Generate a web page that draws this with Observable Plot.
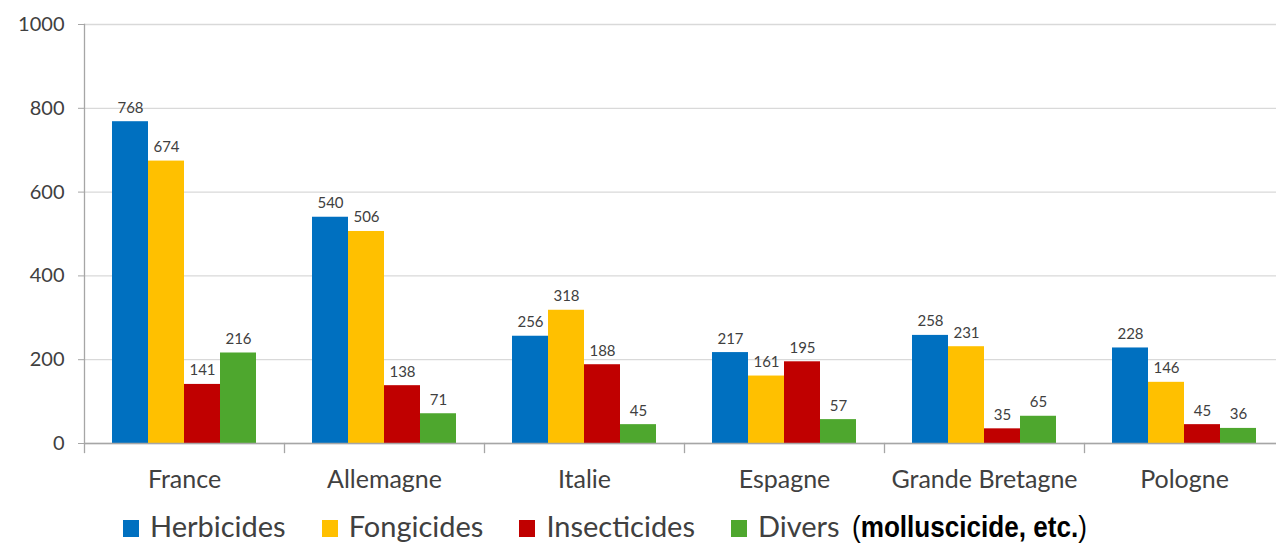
<!DOCTYPE html>
<html>
<head>
<meta charset="utf-8">
<script src="https://cdn.jsdelivr.net/npm/d3@7"></script>
<script src="https://cdn.jsdelivr.net/npm/@observablehq/plot@0.6"></script>
<style>
  html, body { margin: 0; padding: 0; background: #fff; overflow: hidden; }
  #wrap { position: relative; width: 1276px; height: 544px; }
  #legend {
    position: absolute; left: 123px; top: 511px;
    white-space: nowrap; font-family: Lato, sans-serif; font-size: 29px;
    line-height: 29px; color: #404040;
  }
  #legend .item { margin-right: 36px; }
  #legend .item:last-child { margin-right: 0; }
  #legend .sw { display: inline-block; width: 16px; height: 17px; margin-right: 11px; vertical-align: baseline; }
  #legend .note {
    display: inline-block; margin-left: 12px; color: #000; line-height: 26px;
    font-family: "Liberation Sans", Arial, sans-serif; font-size: 30px;
    transform: scaleX(0.87); transform-origin: left center;
  }
  #legend .note b { font-weight: 700; }
</style>
</head>
<body>
<div id="wrap">
  <div id="chart"></div>
  <div id="legend"></div>
</div>
<script>
// Pesticide use by country and product family
const countries = ["France", "Allemagne", "Italie", "Espagne", "Grande Bretagne", "Pologne"];
const series = ["Herbicides", "Fongicides", "Insecticides", "Divers"];
const herbicides = [768, 540, 256, 217, 258, 228];
const fongicides = [674, 506, 318, 161, 231, 146];
const insecticides = [141, 138, 188, 195, 35, 45];
const divers = [216, 71, 45, 57, 65, 36];
const colors = ["#0070C0", "#FFC000", "#C00000", "#4EA72E"];
const yTicks = [0, 200, 400, 600, 800, 1000];
const diversNote = "molluscicide, etc.";

const valuesBySeries = [herbicides, fongicides, insecticides, divers];
const rows = [];
countries.forEach((country, i) => {
  series.forEach((type, j) => {
    rows.push({country, type, value: valuesBySeries[j][i]});
  });
});

const W = 1276, H = 500, mTop = 24, mBottom = 57, mLeft = 84, mRight = -8;
const axisGray = "#a6a6a6";

const chart = Plot.plot({
  width: W,
  height: H,
  marginTop: mTop,
  marginBottom: mBottom,
  marginLeft: mLeft,
  marginRight: mRight,
  style: {color: "#404040", background: "#fff", fontFamily: "Lato, sans-serif"},
  fx: {domain: countries, padding: 0},
  x: {domain: series, paddingInner: 0, paddingOuter: 0.74, axis: null},
  y: {domain: [0, 1000], axis: null},
  color: {domain: series, range: colors},
  marks: [
    Plot.gridY(yTicks, {stroke: "#d9d9d9", strokeOpacity: 1, strokeWidth: 1.3}),
    Plot.barY(rows, {fx: "country", x: "type", y: "value", fill: "type"}),
    Plot.text(rows, {
      fx: "country", x: "type", y: "value", text: d => String(d.value),
      lineAnchor: "bottom", dy: -9, fontSize: 15, fill: "#404040"
    }),
    Plot.ruleY([0], {stroke: axisGray, strokeWidth: 1.3}),
    // vertical value axis line, first panel only
    Plot.frame({anchor: "left", facetAnchor: "left", stroke: axisGray, strokeWidth: 1.3}),
    // category separators below the baseline
    Plot.frame({anchor: "left", insetTop: H - mTop - mBottom, insetBottom: -9, stroke: axisGray, strokeWidth: 1.3}),
    Plot.axisY(yTicks, {
      tickSize: 6, tickPadding: 14, fontSize: 20, stroke: axisGray, fill: "#404040",
      tickFormat: d => String(d), label: null
    }),
    Plot.axisFx({
      anchor: "bottom", tickSize: 0, tickPadding: 27, fontSize: 25, fill: "#404040", label: null
    })
  ]
});
document.getElementById("chart").appendChild(chart);

// Legend below the chart
const legend = document.getElementById("legend");
legend.innerHTML = series.map((s, j) =>
  `<span class="item"><span class="sw" style="background:${colors[j]}"></span>${s}` +
  (j === series.length - 1 ? `<span class="note">(<b>${diversNote}</b>)</span>` : "") +
  `</span>`
).join("");
</script>
</body>
</html>
